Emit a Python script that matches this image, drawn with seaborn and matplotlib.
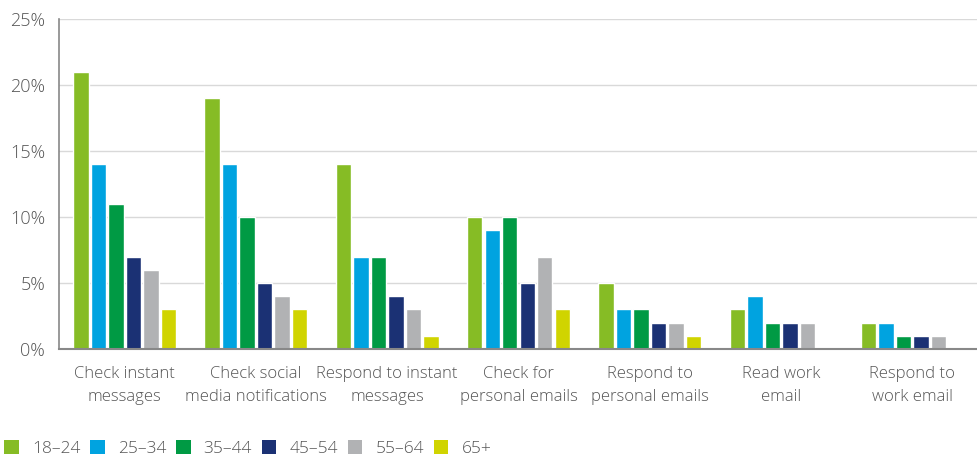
import matplotlib
matplotlib.use("Agg")
import matplotlib.pyplot as plt
import seaborn as sns
import pandas as pd
from matplotlib.patches import Patch

categories = ["Check instant\nmessages", "Check social\nmedia notifications", "Respond to instant\nmessages",
              "Check for\npersonal emails", "Respond to\npersonal emails", "Read work\nemail", "Respond to\nwork email"]
age_groups = ["18–24", "25–34", "35–44", "45–54", "55–64", "65+"]
values = {
    "18–24": [21, 19, 14, 10, 5, 3, 2],
    "25–34": [14, 14, 7, 9, 3, 4, 2],
    "35–44": [11, 10, 7, 10, 3, 2, 1],
    "45–54": [7, 5, 4, 5, 2, 2, 1],
    "55–64": [6, 4, 3, 7, 2, 2, 1],
    "65+":   [3, 3, 1, 3, 1, 0, 0],
}
colors = ["#86bc25", "#00a3e0", "#009a44", "#1b3174", "#b1b2b4", "#d0d400"]
yticks = [0, 5, 10, 15, 20, 25]

rows = []
for g in age_groups:
    for c, v in zip(categories, values[g]):
        rows.append({"category": c, "age": g, "value": v})
df = pd.DataFrame(rows)

sns.set_style("white")
plt.rcParams["font.family"] = ["Open Sans", "DejaVu Sans"]
text_color = "#555555"

fig = plt.figure(figsize=(9.78, 4.58), dpi=100)
ax = fig.add_axes([0.0603, 0.238, 0.9397, 0.7205])

sns.barplot(data=df, x="category", y="value", hue="age", order=categories, hue_order=age_groups,
            palette=colors, width=0.8, gap=0.12, ax=ax, legend=False, saturation=1)

ax.set_ylim(0, 25)
ax.set_xlim(-0.5, 6.5)
ax.set_yticks(yticks)
ax.set_yticklabels([f"{t}%" for t in yticks], fontsize=13, color=text_color, fontweight="light")
ax.tick_params(axis="y", length=0, pad=10)
ax.set_xticks(range(len(categories)))
ax.set_xticklabels(categories, fontsize=12, color=text_color, fontweight="light", linespacing=1.65)
ax.tick_params(axis="x", length=0, pad=12)
ax.yaxis.grid(True, color="#d9d9d9", linewidth=1)
ax.set_axisbelow(True)
ax.set_xlabel("")
ax.set_ylabel("")
for s in ["top", "right"]:
    ax.spines[s].set_visible(False)
ax.spines["left"].set_color("#888888")
ax.spines["left"].set_linewidth(1.2)
ax.spines["bottom"].set_color("#888888")
ax.spines["bottom"].set_linewidth(1.5)

handles = [Patch(facecolor=c, edgecolor="none", label=g) for c, g in zip(colors, age_groups)]
leg = fig.legend(handles=handles, loc="lower left", bbox_to_anchor=(-0.004, -0.015), ncol=6, frameon=False,
                 fontsize=12.5, handlelength=0.86, handleheight=0.86, handletextpad=0.75, columnspacing=0.55,
                 borderpad=0.25, borderaxespad=0.2)
for t in leg.get_texts():
    t.set_color(text_color)
    t.set_fontweight("light")

fig.savefig("out.png", dpi=100)
